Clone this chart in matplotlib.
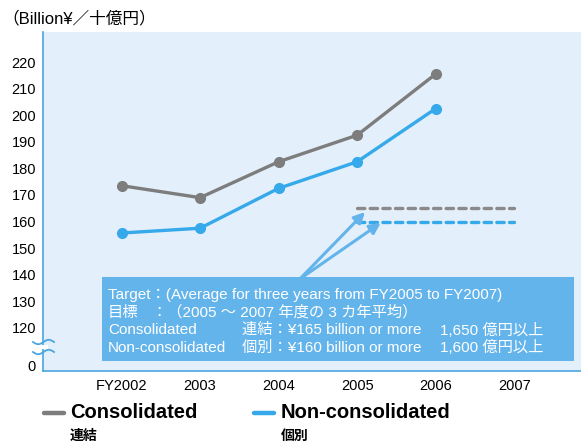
import numpy as np
import matplotlib.pyplot as plt
from matplotlib.patches import Rectangle

plt.rcParams['font.family'] = ['Liberation Sans', 'Noto Sans CJK JP', 'DejaVu Sans']

years = [2002, 2003, 2004, 2005, 2006]
consolidated = [173.5, 169, 182.5, 192.5, 215.5]
non_consolidated = [155.7, 157.5, 172.5, 182.5, 202.5]
target_years = [2005, 2007]
target_consolidated = 165
target_non_consolidated = 160
xlabels = ['FY2002', '2003', '2004', '2005', '2006', '2007']
yticks = [120, 130, 140, 150, 160, 170, 180, 190, 200, 210, 220]

GRAY = '#7d7d7d'
BLUE = '#36a9ea'
BOX = '#64b4ec'
BG = '#e3effa'
ZERO_POS = 105.7  # where the broken-axis "0" sits

fig = plt.figure(figsize=(5.81, 4.45), dpi=100)
ax = fig.add_axes([43/581, 1-371/445, 538/581, 339/445])
ax.set_facecolor(BG)
ax.set_xlim(2001.0, 2007.85)
ax.set_ylim(103.8, 231.3)

ax.plot(years, consolidated, color=GRAY, lw=2.4, marker='o', ms=7, zorder=3)
ax.plot(years, non_consolidated, color=BLUE, lw=2.4, marker='o', ms=7, zorder=3)
ax.plot(target_years, [target_consolidated]*2, color='#8a8a8a', lw=2.4,
        ls=(0, (2.2, 1.6)), dash_capstyle='round', zorder=3)
ax.plot(target_years, [target_non_consolidated]*2, color=BLUE, lw=2.4,
        ls=(0, (2.2, 1.6)), dash_capstyle='round', zorder=3)

# arrows from the note box to the target lines
for tip in [(2005.10, 163.6), (2005.30, 159.5)]:
    ax.annotate('', xy=tip, xytext=(2004.27, 138.4),
                arrowprops=dict(arrowstyle='-|>', color=BOX, lw=2.2,
                                mutation_scale=16, shrinkA=0, shrinkB=0), zorder=4)

ax.set_xticks(range(2002, 2008))
ax.set_xticklabels(xlabels, fontsize=10.5)
ax.set_yticks([ZERO_POS] + yticks)
ax.set_yticklabels(['0'] + [str(v) for v in yticks], fontsize=10.5)
ax.tick_params(length=0, pad=5)
ax.tick_params(axis='x', pad=6)
for s in ['top', 'right']:
    ax.spines[s].set_visible(False)
for s in ['left', 'bottom']:
    ax.spines[s].set_color('#4aa6e2')
    ax.spines[s].set_linewidth(1.2)

# note box
box = Rectangle((102/581, 1-361/445), 472/581, 84/445, transform=fig.transFigure,
                facecolor=BOX, edgecolor='none', zorder=5)
fig.patches.append(box)
kw = dict(color='white', fontsize=11, va='center', zorder=6)
def ft(x, y, s, **k):
    fig.text(x/581, 1-y/445, s, **kw, **k)
ft(108, 295, 'Target：(Average for three years from FY2005 to FY2007)')
ft(108, 312.5, '目標')
ft(152, 312.5, '：（2005 ～ 2007 年度の 3 カ年平均）')
ft(108, 330, 'Consolidated')
ft(242, 330, '連結：¥165 billion or more')
ft(440, 330, '1,650 億円以上')
ft(108, 347.5, 'Non-consolidated')
ft(242, 347.5, '個別：¥160 billion or more')
ft(440, 347.5, '1,600 億円以上')

# axis break marks
xs = np.linspace(33, 54, 60)
for yc in [342, 352]:
    ys = yc + 2.2*np.sin((xs-33)/21*2*np.pi)
    fig.lines.append(plt.Line2D(xs/581, 1-ys/445, transform=fig.transFigure,
                                color='#4aa6e2', lw=1.3, zorder=7))
fig.patches.append(Rectangle((40/581, 1-349/445), 8/581, 4/445, transform=fig.transFigure,
                             facecolor='white', edgecolor='none', zorder=6))

# title
fig.text(2/581, 1-18/445, '（Billion¥／十億円）', fontsize=12, va='center')

# legend
fig.lines.append(plt.Line2D([44/581, 64/581], [1-413/445]*2, transform=fig.transFigure,
                            color=GRAY, lw=3.2, solid_capstyle='round'))
fig.lines.append(plt.Line2D([254/581, 274/581], [1-413/445]*2, transform=fig.transFigure,
                            color=BLUE, lw=3.2, solid_capstyle='round'))
lk = dict(fontsize=14.5, fontweight='bold', va='center',
          family=['Liberation Sans Narrow', 'Liberation Sans', 'DejaVu Sans'])
fig.text(70/581, 1-413/445, 'Consolidated', **lk)
fig.text(281/581, 1-413/445, 'Non-consolidated', **lk)
fig.text(70/581, 1-436/445, '連結', fontsize=10, fontweight='bold', va='center',
         family=['Noto Sans CJK JP'])
fig.text(281/581, 1-436/445, '個別', fontsize=10, fontweight='bold', va='center',
         family=['Noto Sans CJK JP'])

fig.savefig('out.png', dpi=100)
